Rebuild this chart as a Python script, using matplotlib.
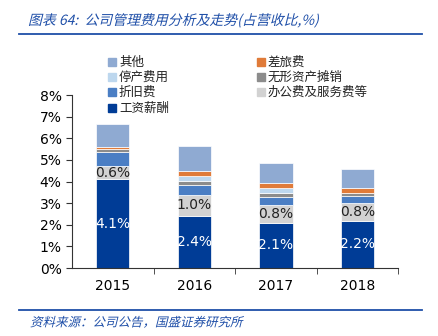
import matplotlib
matplotlib.use("Agg")
import matplotlib.pyplot as plt
from matplotlib.patches import Rectangle, PathPatch
from matplotlib.lines import Line2D
from matplotlib.textpath import TextPath
from matplotlib.font_manager import FontProperties
from matplotlib.transforms import Affine2D, IdentityTransform
import numpy as np

plt.rcParams['font.family'] = ['Noto Sans CJK SC', 'DejaVu Sans']

years = ["2015", "2016", "2017", "2018"]
wages = [4.1, 2.4, 2.1, 2.2]            # 工资薪酬
office = [0.6, 1.0, 0.8, 0.8]           # 办公费及服务费等
depreciation = [0.65, 0.45, 0.38, 0.33]  # 折旧费
intangible = [0.14, 0.18, 0.18, 0.14]   # 无形资产摊销
shutdown = [0.0, 0.23, 0.23, 0.0]       # 停产费用
travel = [0.10, 0.23, 0.23, 0.23]       # 差旅费
other = [1.06, 1.16, 0.93, 0.88]        # 其他

yticks = [0, 1, 2, 3, 4, 5, 6, 7, 8]

c_wages = "#003C96"
c_office = "#D2D2D2"
c_dep = "#4A7EC4"
c_intang = "#8C8C8C"
c_shut = "#BDD7EE"
c_travel = "#E07B39"
c_other = "#8FAAD2"
title_blue = "#1F4FA8"

DPI = 100
W, H = 439, 336
fig = plt.figure(figsize=(W / DPI, H / DPI), dpi=DPI)
ax = fig.add_axes([0.164, 0.202, 0.743, 0.515])

x = np.arange(len(years))
w = 0.41
stack = [
    (wages, c_wages), (office, c_office), (depreciation, c_dep),
    (intangible, c_intang), (shutdown, c_shut), (travel, c_travel), (other, c_other),
]
bottom = np.zeros(len(years))
for vals, col in stack:
    ax.bar(x, vals, w, bottom=bottom, color=col, edgecolor="white", linewidth=0.5)
    bottom = bottom + np.array(vals)

for i in range(len(years)):
    ax.text(x[i], wages[i] / 2, f"{wages[i]:.1f}%", ha="center", va="center",
            color="white", fontsize=10, family="DejaVu Sans")
    ax.text(x[i], wages[i] + office[i] / 2, f"{office[i]:.1f}%", ha="center",
            va="center", color="#222222", fontsize=10, family="DejaVu Sans")

ax.set_xlim(-0.5, 3.5)
ax.set_ylim(0, 8)
ax.set_yticks(yticks)
ax.set_yticklabels([f"{v}%" for v in yticks], fontsize=10, family="DejaVu Sans")
ax.set_xticks(x)
ax.set_xticklabels(years, fontsize=10, family="DejaVu Sans")
ax.tick_params(axis="x", length=0, pad=8)
ax.set_xticks([0.5, 1.5, 2.5, 3.5], minor=True)
ax.tick_params(axis="x", which="minor", length=4, direction="out", color="#333333")
ax.tick_params(axis="y", length=4, direction="out", color="#333333")
for s in ["top", "right"]:
    ax.spines[s].set_visible(False)
for s in ["left", "bottom"]:
    ax.spines[s].set_color("#333333")
    ax.spines[s].set_linewidth(0.8)

# legend, two columns
col1 = [("其他", c_other), ("停产费用", c_shut), ("折旧费", c_dep), ("工资薪酬", c_wages)]
col2 = [("差旅费", c_travel), ("无形资产摊销", c_intang), ("办公费及服务费等", c_office)]
rows_y = [62, 77, 92, 108]
for colx, items in [(112, col1), (261, col2)]:
    for (label, col), yy in zip(items, rows_y):
        fig.patches.append(Rectangle(((colx - 4) / W, 1 - (yy + 4) / H), 8 / W, 8 / H,
                                     transform=fig.transFigure, color=col, figure=fig))
        fig.text((colx + 7) / W, 1 - yy / H, label, fontsize=9, va="center",
                 ha="left", color="#222222")


def slanted_text(px, py, s, size, color):
    """Draw text with a synthetic oblique slant; (px, py) = left / vertical centre in pixels from top."""
    fp = FontProperties(family="Noto Sans CJK SC", size=size)
    tp = TextPath((0, 0), s, prop=fp)
    scale = DPI / 72.0
    tr = (Affine2D().scale(scale).skew_deg(14, 0)
          .translate(px, H - py - size * scale * 0.35))
    patch = PathPatch(tr.transform_path(tp), transform=IdentityTransform(),
                      facecolor=color, edgecolor="none", figure=fig)
    fig.patches.append(patch)


# title and footer
slanted_text(28, 20, "图表 64:  公司管理费用分析及走势(占营收比,%)", 10, title_blue)
fig.add_artist(Line2D([19 / W, 422 / W], [1 - 34 / H, 1 - 34 / H], color="#1F4FA8",
                      linewidth=1.3, transform=fig.transFigure))
fig.add_artist(Line2D([19 / W, 422 / W], [1 - 310 / H, 1 - 310 / H], color="#1F4FA8",
                      linewidth=1.3, transform=fig.transFigure))
slanted_text(30, 322, "资料来源：公司公告，国盛证券研究所", 9, title_blue)

fig.savefig("out.png", dpi=DPI)
